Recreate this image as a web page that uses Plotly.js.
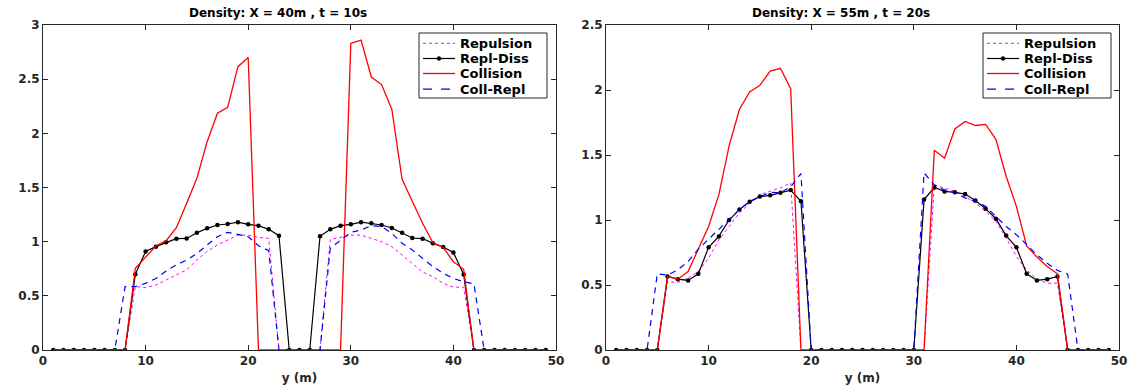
<!DOCTYPE html>
<html>
<head>
<meta charset="utf-8">
<script src="https://cdn.plot.ly/plotly-3.0.1.min.js"></script>
<style>
html,body{margin:0;padding:0;background:#fff;}
#chart{width:1129px;height:390px;}
</style>
</head>
<body>
<div id="chart"></div>
<script>
// y positions (m)
const yPos = Array.from({length: 49}, (_, i) => i + 1);

// Left panel: X = 40m, t = 10s
const repulsionL = [0,0,0,0,0,0,0,0,0.585,0.575,0.60,0.646,0.69,0.74,0.83,0.91,0.97,1.015,1.06,1.06,1.04,1.03,0,0,0,0,0,1.02,1.04,1.06,1.06,1.03,1.0,0.954,0.877,0.80,0.72,0.677,0.615,0.58,0.58,0,0,0,0,0,0,0,0];
const replDissL = [0,0,0,0,0,0,0,0,0.70,0.91,0.954,0.994,1.028,1.03,1.083,1.123,1.154,1.163,1.18,1.16,1.148,1.114,1.055,0,0,0,1.05,1.114,1.148,1.16,1.18,1.17,1.154,1.126,1.083,1.034,1.028,0.985,0.95,0.90,0.697,0,0,0,0,0,0,0,0];
const collisionL = [0,0,0,0,0,0,0,0,0.754,0.86,0.96,1.009,1.129,1.354,1.585,1.923,2.185,2.24,2.615,2.70,0,0,0,0,0,0,0,0,0,2.83,2.86,2.52,2.45,2.22,1.576,1.37,1.17,0.99,0.948,0.815,0.745,0,0,0,0,0,0,0,0];
const collReplL = [0,0,0,0,0,0,0,0.585,0.585,0.615,0.66,0.73,0.785,0.83,0.89,0.97,1.046,1.086,1.068,1.046,0.963,0.917,0,0,0,0,0,0.94,1.015,1.086,1.108,1.148,1.14,1.077,0.985,0.923,0.846,0.77,0.708,0.66,0.63,0.61,0,0,0,0,0,0,0];

// Right panel: X = 55m, t = 20s
const repulsionR = [0,0,0,0,0,0.527,0.52,0.553,0.604,0.707,0.848,0.95,1.054,1.126,1.195,1.221,1.247,1.285,0,0,0,0,0,0,0,0,0,0,0,0,0,1.27,1.247,1.22,1.18,1.13,1.067,0.99,0.86,0.72,0.617,0.545,0.514,0.514,0,0,0,0,0];
const replDissR = [0,0,0,0,0,0.566,0.545,0.535,0.586,0.79,0.874,1.0,1.08,1.14,1.18,1.19,1.21,1.23,1.144,0,0,0,0,0,0,0,0,0,0,0,1.157,1.25,1.22,1.213,1.20,1.15,1.087,1.01,0.88,0.79,0.586,0.535,0.545,0.566,0,0,0,0,0];
const collisionR = [0,0,0,0,0,0.566,0.545,0.604,0.78,0.95,1.195,1.57,1.85,1.985,2.036,2.146,2.167,2.01,0,0,0,0,0,0,0,0,0,0,0,0,0,1.537,1.475,1.70,1.758,1.727,1.735,1.62,1.337,1.105,0.80,0.715,0.643,0.586,0,0,0,0,0];
const collReplR = [0,0,0,0,0.586,0.576,0.617,0.68,0.776,0.853,0.925,1.0,1.08,1.144,1.18,1.213,1.21,1.255,1.357,0,0,0,0,0,0,0,0,0,0,0,1.362,1.27,1.23,1.21,1.17,1.144,1.105,1.03,0.95,0.887,0.81,0.733,0.668,0.612,0.584,0,0,0,0];

const seriesNames = ['Repulsion','Repl-Diss','Collision','Coll-Repl'];
const titles = ['Density: X = 40m , t = 10s', 'Density: X = 55m , t = 20s'];
const xTitle = 'y (m)';
const yTicksL = [0,0.5,1,1.5,2,2.5,3];
const yTicksR = [0,0.5,1,1.5,2,2.5];
const xTicks = [0,10,20,30,40,50];

const FONT = 'DejaVu Sans, Liberation Sans, Arial, sans-serif';
const W = 1129, H = 390, ML = 43, MR = 10, MT = 25, MB = 40;
const PW = W - ML - MR, PH = H - MT - MB;
const px2x = p => (p - ML) / PW;
const px2y = p => (H - MB - p) / PH;

const styles = [
  {line:{color:'#ff00ff', width:1, dash:'dot'}, mode:'lines'},
  {line:{color:'#000000', width:1.2}, mode:'lines+markers', marker:{color:'#000000', size:4.5, symbol:'circle'}},
  {line:{color:'#ff0000', width:1.3}, mode:'lines'},
  {line:{color:'#0000ff', width:1.2, dash:'6px,5px'}, mode:'lines'}
];

function makeTraces(vals, xa, ya) {
  return vals.map((v, i) => Object.assign({
    type:'scatter', x: yPos, y: v, name: seriesNames[i],
    xaxis: xa, yaxis: ya, showlegend: false
  }, styles[i]));
}

const data = [].concat(
  makeTraces([repulsionL, replDissL, collisionL, collReplL], 'x', 'y'),
  makeTraces([repulsionR, replDissR, collisionR, collReplR], 'x2', 'y2')
);

const axBase = {
  showgrid:false, zeroline:false, showline:true, mirror:'ticks',
  linecolor:'#262626', linewidth:1, ticks:'inside', ticklen:5, tickcolor:'#262626',
  tickfont:{family:FONT, size:12, color:'#262626', weight:'bold'}
};

// legend boxes drawn as shapes + text
const shapes = [], annotations = [];
const legendLefts = [419, 983];
const legTop = 33, legBottom = 98;
const itemY = [43.3, 58.5, 73.5, 89.2];
const dashMap = ['dot', 'solid', 'solid', 'dash'];
legendLefts.forEach(lx => {
  shapes.push({type:'rect', xref:'paper', yref:'paper', x0:px2x(lx), x1:px2x(lx+128), y0:px2y(legBottom), y1:px2y(legTop),
    line:{color:'#262626', width:1}, fillcolor:'#ffffff', layer:'above'});
  seriesNames.forEach((name, i) => {
    const st = styles[i];
    shapes.push({type:'line', xref:'paper', yref:'paper', x0:px2x(lx+4), x1:px2x(lx+36), y0:px2y(itemY[i]), y1:px2y(itemY[i]),
      line:{color:st.line.color, width:st.line.width, dash:dashMap[i]}, layer:'above'});
    if (st.marker) {
      const cx = lx + 20, cy = itemY[i], r = 2;
      shapes.push({type:'circle', xref:'paper', yref:'paper', x0:px2x(cx-r), x1:px2x(cx+r), y0:px2y(cy+r), y1:px2y(cy-r),
        fillcolor:'#000000', line:{color:'#000000', width:0.5}, layer:'above'});
    }
    annotations.push({text:name, xref:'paper', yref:'paper', x:px2x(lx+39), y:px2y(itemY[i]), xanchor:'left', yanchor:'middle',
      showarrow:false, font:{family:FONT, size:13, color:'#000000', weight:'bold'}});
  });
});

annotations.push(
  {text:titles[0], xref:'paper', yref:'paper', x:px2x(277.5), y:px2y(13), xanchor:'center', yanchor:'middle', showarrow:false,
   font:{family:FONT, size:12, color:'#000000', weight:'bold'}},
  {text:titles[1], xref:'paper', yref:'paper', x:px2x(841), y:px2y(13), xanchor:'center', yanchor:'middle', showarrow:false,
   font:{family:FONT, size:12, color:'#000000', weight:'bold'}}
);

const titleFont = {family:FONT, size:12, color:'#262626', weight:'bold'};
const layout = {
  width:W, height:H,
  margin:{l:ML, r:MR, t:MT, b:MB},
  paper_bgcolor:'#ffffff', plot_bgcolor:'#ffffff',
  font:{family:FONT},
  showlegend:false,
  xaxis: Object.assign({}, axBase, {domain:[0, px2x(556)], range:[0,50], tickvals:xTicks, anchor:'y',
    title:{text:xTitle, font:titleFont, standoff:6}}),
  yaxis: Object.assign({}, axBase, {range:[0,3], tickvals:yTicksL, anchor:'x'}),
  xaxis2: Object.assign({}, axBase, {domain:[px2x(606), 1], range:[0,50], tickvals:xTicks, anchor:'y2',
    title:{text:xTitle, font:titleFont, standoff:6}}),
  yaxis2: Object.assign({}, axBase, {range:[0,2.5], tickvals:yTicksR, anchor:'x2'}),
  shapes: shapes,
  annotations: annotations
};

Plotly.newPlot('chart', data, layout, {displayModeBar:false, staticPlot:true});
</script>
</body>
</html>
